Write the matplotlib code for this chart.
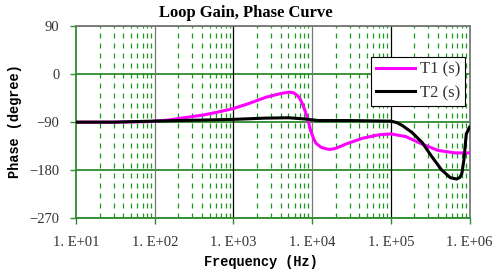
import matplotlib.pyplot as plt
from matplotlib.ticker import FixedLocator, NullFormatter

# frequency points (Hz) and phase (degree)
freq_t1 = [10, 30, 85, 150, 229, 400, 600, 1000, 1580, 2580, 3400, 4190,
           5130, 5800, 6490, 7000, 7550, 8200, 8740, 9630, 10400, 11200,
           13000, 15000, 17000, 20000, 27000, 35000, 44000, 71000, 100000,
           155000, 250000, 400000, 660000, 1000000]
phase_t1 = [-90, -90, -89, -86, -82, -77, -72, -64.5, -55, -43.5, -39, -35.8,
            -33.9, -35, -40, -46, -56, -70, -82, -107, -120, -129.5,
            -137, -140, -141, -139, -131, -125, -120, -113.6, -112,
            -117, -131, -143, -147.6, -147.6]

freq_t2 = [10, 30, 100, 300, 1000, 2500, 5000, 8000, 12000, 30000, 100000,
           120000, 140000, 185000, 250000, 330000, 440000, 570000, 690000,
           760000, 800000, 850000, 910000, 1000000]
phase_t2 = [-90, -90, -88, -86.5, -84.8, -82.5, -81.8, -84, -87, -87, -88,
            -91, -96.3, -109, -128, -154, -179, -194, -196.5,
            -193, -186, -160, -112, -99.6]

y_ticks = [90, 0, -90, -180, -270]
y_labels = ['90', '0', '\u221290', '\u2212180', '\u2212270']
x_ticks = [1e1, 1e2, 1e3, 1e4, 1e5, 1e6]
x_labels = ['1. E+01', '1. E+02', '1. E+03', '1. E+04', '1. E+05', '1. E+06']

green = '#2e8b2e'
W, H = 497, 272

fig = plt.figure(figsize=(W / 100, H / 100), dpi=100)
ax = fig.add_axes([76 / W, 1 - 218.3 / H, 393.5 / W, 192.3 / H])

ax.set_xscale('log')
ax.set_xlim(1e1, 1e6)
ax.set_ylim(-270, 90)

# grid: green horizontal lines, grey decade lines, dashed green minor lines
for y in y_ticks:
    ax.axhline(y, color=green, lw=1.3, zorder=1)
for i, x in enumerate(x_ticks[1:-1]):
    ax.axvline(x, color='#777777' if i % 2 == 0 else 'black', lw=0.9, zorder=1)
minor = [m * 10 ** d for d in range(1, 6) for m in range(2, 10)]
for x in minor:
    ax.axvline(x, color='#1a9a1a', lw=0.9, ls=(0, (4, 4)), zorder=1)

ax.plot(freq_t1, phase_t1, color='#ff00ff', lw=2.2, label='T1 (s)', zorder=3)
ax.plot(freq_t2, phase_t2, color='black', lw=2.2, label='T2 (s)', zorder=3)

ax.xaxis.set_major_locator(FixedLocator(x_ticks))
ax.xaxis.set_minor_locator(FixedLocator(minor))
ax.xaxis.set_minor_formatter(NullFormatter())
ax.set_xticklabels(x_labels)
ax.set_yticks(y_ticks)
ax.set_yticklabels(y_labels)
ax.tick_params(axis='both', which='major', color=green, length=4, width=1,
               labelsize=10.5, labelcolor='#333333')
ax.tick_params(axis='x', which='major', pad=9)
ax.tick_params(axis='y', which='major', pad=8)
ax.tick_params(axis='x', which='minor', length=0)
for lab in ax.get_xticklabels() + ax.get_yticklabels():
    lab.set_family('Liberation Serif')

ax.spines['left'].set_color(green)
ax.spines['bottom'].set_color(green)
ax.spines['top'].set_color('#777777')
ax.spines['right'].set_color('#777777')
for s in ax.spines.values():
    s.set_linewidth(1.3)

fig.text(246 / W, 1 - 13 / H, 'Loop Gain, Phase Curve', family='Liberation Serif',
         fontweight='bold', fontsize=12, ha='center', va='center')
fig.text(261 / W, 1 - 262 / H, 'Frequency (Hz)', family='Liberation Mono',
         fontweight='bold', fontsize=9.8, ha='center', va='center')
fig.text(15 / W, 1 - 121 / H, 'Phase (degree)', family='Liberation Mono',
         fontweight='bold', fontsize=9.8, ha='center', va='center', rotation=90)

leg = ax.legend(loc='upper right', bbox_to_anchor=(465 / W, 1 - 56.7 / H),
                bbox_transform=fig.transFigure, borderaxespad=0,
                prop={'family': 'Liberation Serif', 'size': 12},
                fancybox=False, framealpha=1, edgecolor='black',
                handlelength=2.3, borderpad=0.3, labelspacing=0.45,
                handletextpad=0.3)
leg.get_frame().set_linewidth(0.8)
for t in leg.get_texts():
    t.set_color('#333333')

fig.savefig('out.png', dpi=100)
